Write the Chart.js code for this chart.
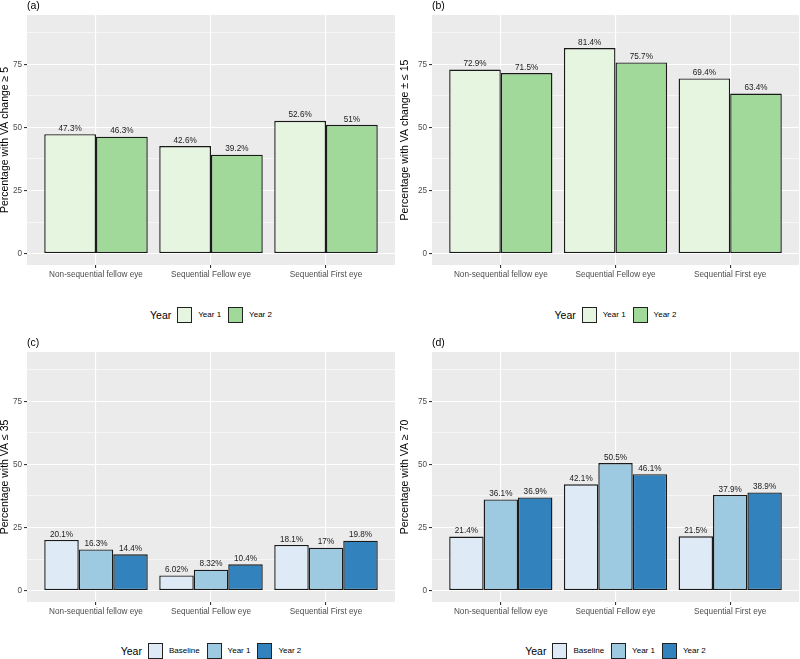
<!DOCTYPE html>
<html>
<head>
<meta charset="utf-8">
<script src="https://cdn.jsdelivr.net/npm/chart.js@4.4.1/dist/chart.umd.min.js"></script>
<style>
  body { margin: 0; background: #fff; }
  #wrap { position: relative; width: 800px; height: 659px; overflow: hidden; font-family: "Liberation Sans", Arial, sans-serif; }
  canvas { position: absolute; }
  .legend { position: absolute; display: flex; align-items: center; justify-content: center; height: 17px; color: #000; }
  .legend .ttl { font-size: 10.5px; margin-right: 6px; }
  .legend .key { width: 15px; height: 16px; box-sizing: border-box; border: 1.3px solid #222; margin-right: 6px; }
  .legend .lbl { font-size: 8px; margin-right: 7px; }
  .legend .lbl:last-child { margin-right: 0; }
</style>
</head>
<body>
<div id="wrap">
  <canvas id="chartA" width="400" height="285" style="left:0;top:0"></canvas>
  <canvas id="chartB" width="400" height="285" style="left:400px;top:0"></canvas>
  <canvas id="chartC" width="400" height="285" style="left:0;top:337px"></canvas>
  <canvas id="chartD" width="400" height="285" style="left:400px;top:337px"></canvas>
  <div class="legend" id="legendA" style="left:27px;width:368px;top:306px"></div>
  <div class="legend" id="legendB" style="left:432px;width:367px;top:306px"></div>
  <div class="legend" id="legendC" style="left:27px;width:368px;top:642px"></div>
  <div class="legend" id="legendD" style="left:432px;width:367px;top:642px"></div>
</div>
<script>
// data
const categories = ["Non-sequential fellow eye", "Sequential Fellow eye", "Sequential First eye"];
const yTickValues = [0, 25, 50, 75];
const yMinorValues = [12.5, 37.5, 62.5, 87.5];

const yearsTwo = ["Year 1", "Year 2"];
const yearsThree = ["Baseline", "Year 1", "Year 2"];

// (a) VA change >= 5
const aYear1 = [47.3, 42.6, 52.6];
const aYear2 = [46.3, 39.2, 51];
// (b) VA change +- <= 15
const bYear1 = [72.9, 81.4, 69.4];
const bYear2 = [71.5, 75.7, 63.4];
// (c) VA <= 35
const cBaseline = [20.1, 6.02, 18.1];
const cYear1 = [16.3, 8.32, 17];
const cYear2 = [14.4, 10.4, 19.8];
// (d) VA >= 70
const dBaseline = [21.4, 42.1, 21.5];
const dYear1 = [36.1, 50.5, 37.9];
const dYear2 = [36.9, 46.1, 38.9];

const greens = ["#e5f5e0", "#a1d99b"];
const blues = ["#deebf7", "#9ecae1", "#3182bd"];

const FONT = "'Liberation Sans', Arial, sans-serif";

// grey panel like ggplot
const panelBg = {
  id: "panelBg",
  beforeDraw(chart) {
    const { ctx, chartArea: a } = chart;
    ctx.save();
    ctx.fillStyle = "#ebebeb";
    ctx.fillRect(a.left, a.top, a.right - a.left, a.bottom - a.top);
    ctx.restore();
  },
};

// "(a)" etc
const panelTag = {
  id: "panelTag",
  afterDraw(chart, args, opts) {
    const { ctx, chartArea: a } = chart;
    ctx.save();
    ctx.font = "10.5px " + FONT;
    ctx.fillStyle = "#000";
    ctx.textAlign = "left";
    ctx.textBaseline = "middle";
    ctx.fillText(opts.text, a.left, a.top - 9);
    ctx.restore();
  },
};

// value labels on top of bars
const barLabels = {
  id: "barLabels",
  afterDatasetsDraw(chart) {
    const ctx = chart.ctx;
    ctx.save();
    ctx.font = "8.2px " + FONT;
    ctx.fillStyle = "#1a1a1a";
    ctx.textAlign = "center";
    ctx.textBaseline = "bottom";
    chart.data.datasets.forEach((ds, i) => {
      chart.getDatasetMeta(i).data.forEach((bar, j) => {
        ctx.fillText(ds.data[j].y + "%", bar.x, bar.y - 1.5);
      });
    });
    ctx.restore();
  },
};

function makePanel(id, tag, yTitle, names, series, colors, yWidth, rightPad) {
  const isMajor = (v) => yTickValues.includes(v);
  return new Chart(document.getElementById(id), {
    type: "bar",
    data: {
      datasets: series.map((vals, k) => ({
        label: names[k],
        data: vals.map((v, i) => ({ x: i, y: v })),
        backgroundColor: colors[k],
        borderColor: "#1a1a1a",
        borderWidth: 1.4,
        borderSkipped: false,
        barPercentage: 1,
        categoryPercentage: 0.9,
      })),
    },
    options: {
      responsive: false,
      animation: false,
      events: [],
      layout: { padding: { top: 15, right: rightPad, bottom: 0, left: 0 } },
      scales: {
        x: {
          type: "linear",
          min: -0.6,
          max: 2.6,
          offset: false,
          afterBuildTicks: (scale) => {
            scale.ticks = categories.map((_, i) => ({ value: i }));
          },
          afterFit: (scale) => {
            scale.height = 20;
          },
          border: { display: false },
          grid: { color: "#ffffff", lineWidth: 1.1, offset: false, tickColor: "#333333", tickLength: 3 },
          ticks: {
            callback: (v) => categories[v],
            color: "#4d4d4d",
            font: { size: 8.2, family: FONT },
            padding: 2,
            maxRotation: 0,
            autoSkip: false,
          },
        },
        y: {
          min: -4.5,
          max: 94.5,
          afterBuildTicks: (scale) => {
            scale.ticks = [...yTickValues, ...yMinorValues].sort((p, q) => p - q).map((v) => ({ value: v }));
          },
          afterFit: (scale) => {
            scale.width = yWidth;
          },
          border: { display: false },
          grid: {
            color: "#ffffff",
            lineWidth: (c) => (c.tick && isMajor(c.tick.value) ? 1.1 : 0.55),
            tickColor: (c) => (c.tick && isMajor(c.tick.value) ? "#333333" : "rgba(0,0,0,0)"),
            tickLength: 3,
          },
          ticks: {
            callback: (v) => (isMajor(v) ? v : ""),
            color: "#4d4d4d",
            font: { size: 8.2, family: FONT },
            padding: 2,
            autoSkip: false,
          },
          title: {
            display: true,
            text: yTitle,
            color: "#000",
            font: { size: 10.5, family: FONT, lineHeight: 1 },
            padding: 0,
          },
        },
      },
      plugins: {
        legend: { display: false },
        tooltip: { enabled: false },
        panelTag: { text: tag },
      },
    },
    plugins: [panelBg, barLabels, panelTag],
  });
}

function buildLegend(id, names, colors) {
  const el = document.getElementById(id);
  el.innerHTML =
    '<span class="ttl">Year</span>' +
    names
      .map((n, i) => '<span class="key" style="background:' + colors[i] + '"></span><span class="lbl">' + n + "</span>")
      .join("");
}

makePanel("chartA", "(a)", "Percentage with VA change \u2265 5", yearsTwo, [aYear1, aYear2], greens, 27, 5);
makePanel("chartB", "(b)", "Percentage with VA change \u00b1 \u2264 15", yearsTwo, [bYear1, bYear2], greens, 32, 1);
makePanel("chartC", "(c)", "Percentage with VA \u2264 35", yearsThree, [cBaseline, cYear1, cYear2], blues, 27, 5);
makePanel("chartD", "(d)", "Percentage with VA \u2265 70", yearsThree, [dBaseline, dYear1, dYear2], blues, 32, 1);

buildLegend("legendA", yearsTwo, greens);
buildLegend("legendB", yearsTwo, greens);
buildLegend("legendC", yearsThree, blues);
buildLegend("legendD", yearsThree, blues);
</script>
</body>
</html>
